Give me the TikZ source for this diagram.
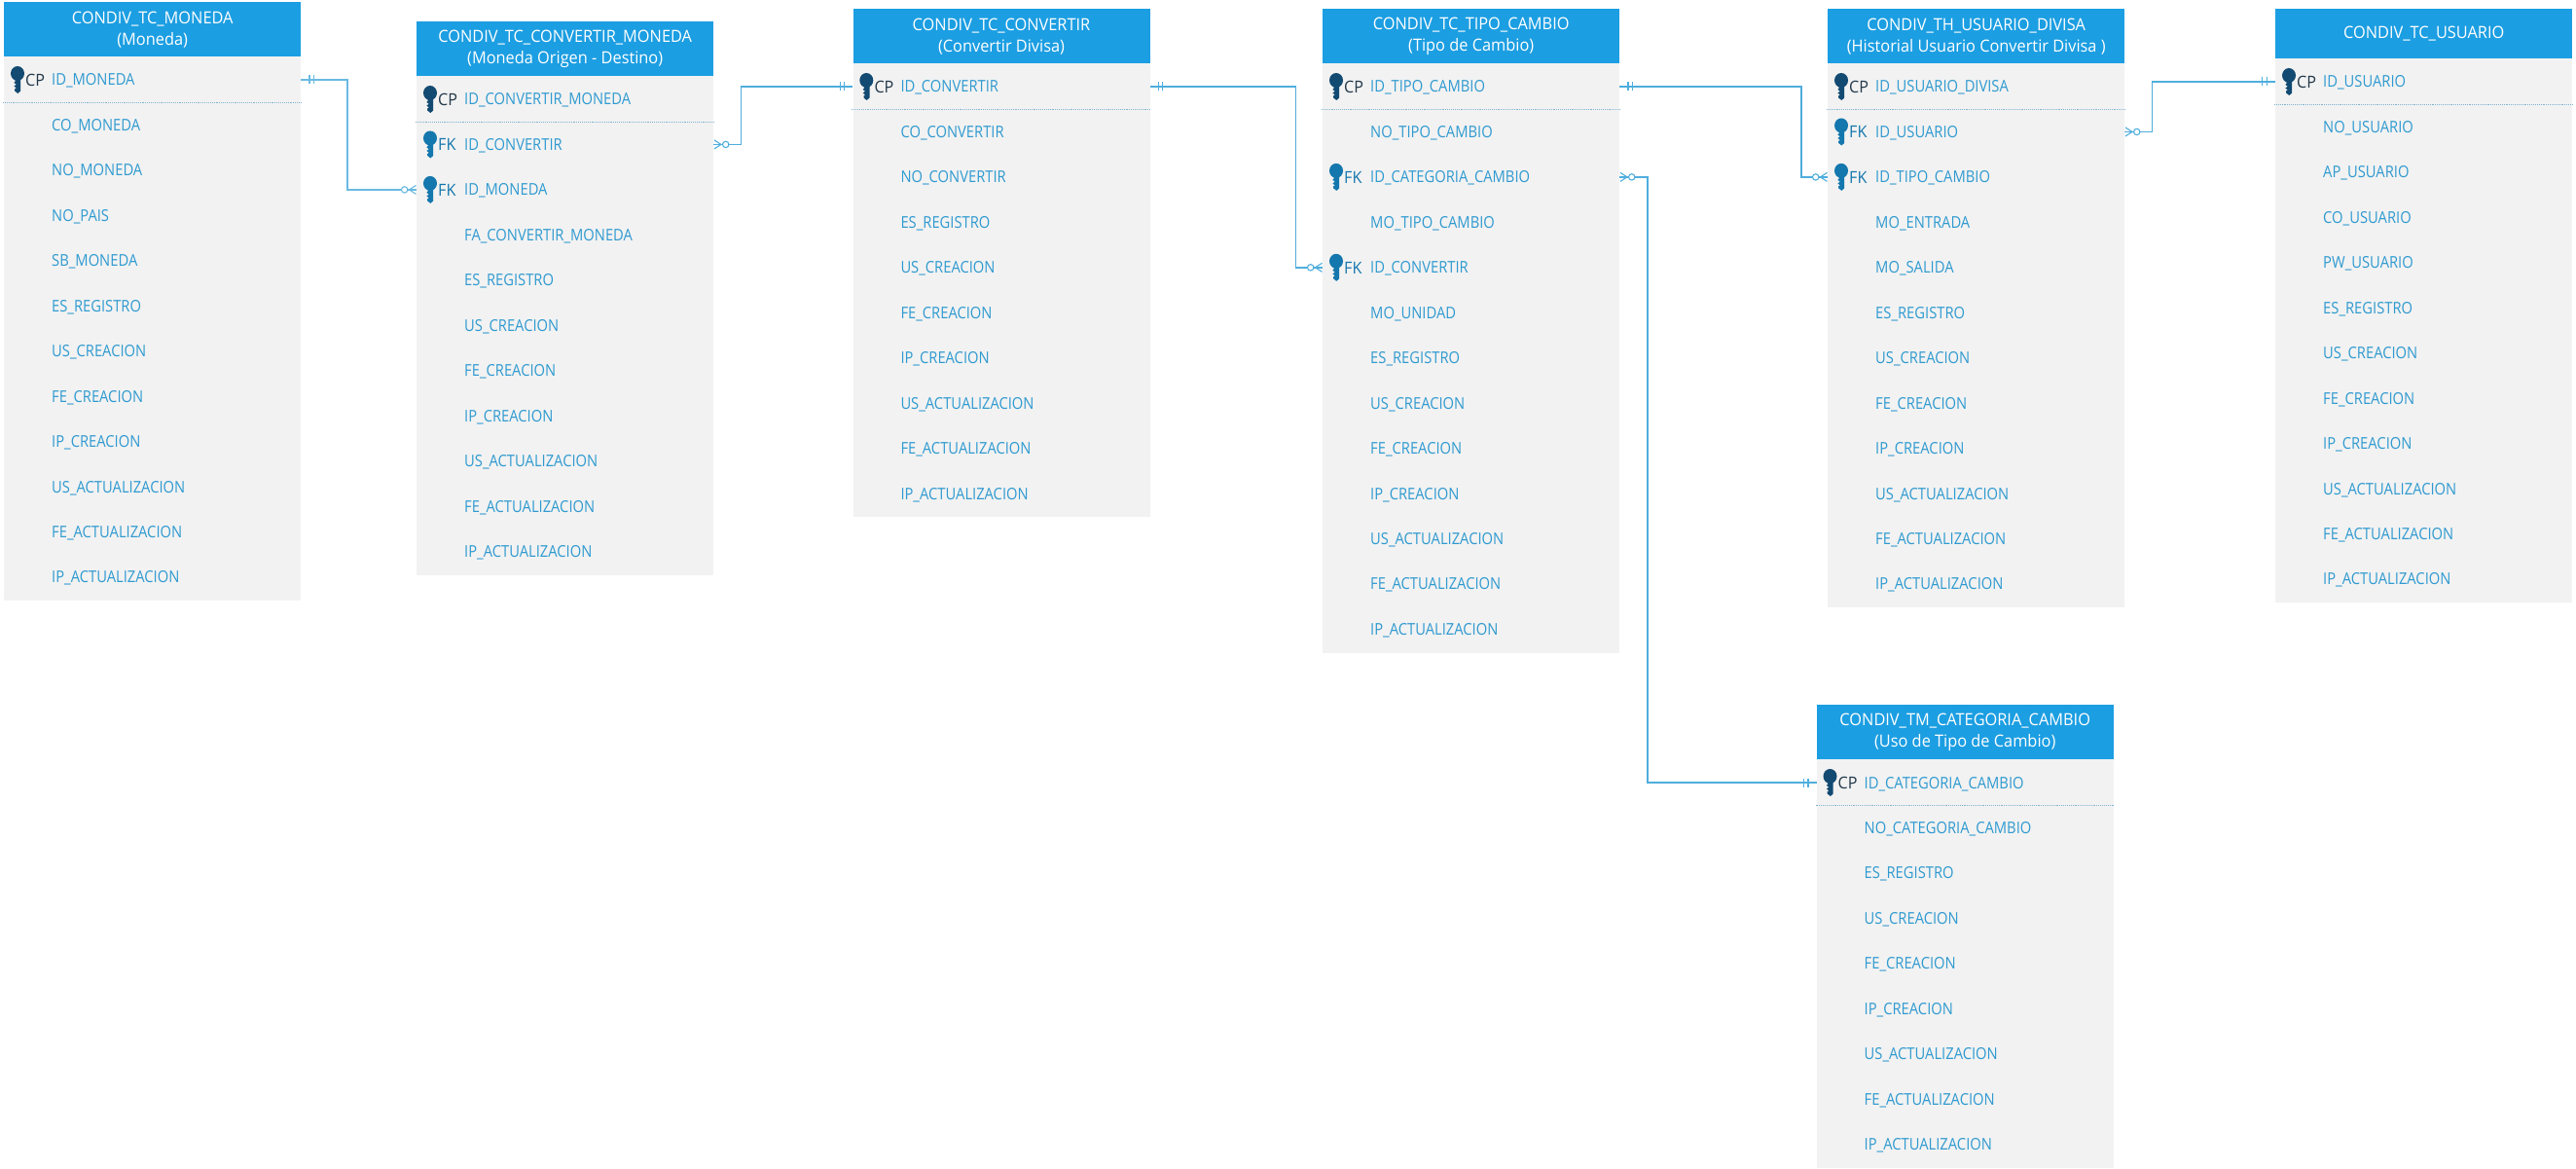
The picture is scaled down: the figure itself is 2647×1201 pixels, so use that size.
\documentclass[tikz,border=0pt]{standalone}
\usepackage{fontspec}
\setmainfont[FakeStretch=0.95]{Open Sans}
\newfontfamily\rowfont[FakeStretch=0.888]{Open Sans}
\usetikzlibrary{arrows.meta,calc}
\definecolor{headblue}{HTML}{1C9EE2}
\definecolor{bodygrey}{HTML}{F2F2F2}
\definecolor{fieldblue}{HTML}{2F9AD0}
\definecolor{linkblue}{HTML}{4FAEDD}
\definecolor{pkdark}{HTML}{124A72}
\definecolor{fkmid}{HTML}{1477AD}
\definecolor{cptext}{HTML}{22384A}
\definecolor{divblue}{HTML}{7FB3D0}
\tikzset{
  x=1pt,y=-1pt,
  bodybox/.style={fill=bodygrey,draw=none,minimum width=305pt,inner sep=0pt,anchor=north west},
  headbox/.style={fill=headblue,draw=none,text=white,minimum width=305pt,inner sep=0pt,anchor=north west,align=center,font=\fontsize{17.2}{22}\selectfont},
  rowbox/.style={anchor=west,text width=305pt,inner sep=0pt,align=left,text=fieldblue,text height=12pt,text depth=0pt,font=\rowfont\fontsize{16.6}{20}\selectfont},
  keytag/.style={anchor=west,inner sep=0pt,text height=12.5pt,text depth=0pt,font=\fontsize{17}{20}\selectfont},
  divider/.style={divblue,line width=0.9pt,densely dotted},
  onetip/.tip={Bar[width=9pt,sep=3.5pt]Bar[width=9pt,sep=8pt]},
  manytip/.tip={Circle[fill=white,length=7.5pt,width=7.5pt,sep=0pt]Straight Barb[reversed,length=7pt,width=9pt]},
  conn/.style={linkblue,line width=1.4pt},
  connwide/.style={conn,line width=2pt,color=linkblue!85!white},
  onemany/.style={postaction={draw,line width=1.1pt,onetip-manytip}},
  manyone/.style={postaction={draw,line width=1.1pt,manytip-onetip}},
  keyicon/.pic={
    \path[pic actions] (0,-6.5) ellipse (7 and 7.5);
    \path[pic actions] (-3.2,-1) -- (3.2,-1) -- (3.2,11.5) -- (0.3,14) -- (-2.8,11.5) -- (-2.8,9.5) -- (-1.2,8.5) -- (-3.6,6.5) -- (-1.2,4.8) -- (-3.6,3) -- (-2,1) -- cycle;
  }
}
\newcommand{\rowmarkN}[2]{}
\newcommand{\rowmarkP}[2]{%
  \pic[fill=pkdark] at ($(#1.west)+(14,0)$) {keyicon};
  \node[keytag,text=cptext] (#2) at ($(#1.west)+(22,0)$) {CP};}
\newcommand{\rowmarkF}[2]{%
  \pic[fill=fkmid] at ($(#1.west)+(14,0)$) {keyicon};
  \node[keytag,text=fkmid] (#2) at ($(#1.west)+(22,0)$) {FK};}
% id, x, top, header height, rows, header text, rows
\newcommand{\dbtable}[7]{%
  \pgfmathsetmacro{\bodytop}{#3+#4}
  \pgfmathsetmacro{\firstrow}{\bodytop+24}
  \pgfmathsetmacro{\bodyhigh}{48+(#5-1)*46.45}
  \node[bodybox,minimum height=\bodyhigh pt] (#1body) at (#2,\bodytop) {};
  \node[headbox,minimum height=#4pt] (#1head) at (#2,#3) {#6};
  \foreach \kind/\field [count=\n] in {#7}{%
    \pgfmathsetmacro{\rowy}{\firstrow+(\n-1)*46.45}
    \node[rowbox] (#1r\n) at (#2,\rowy) {\hspace*{49pt}\field};
    \csname rowmark\kind\endcsname{#1r\n}{#1tag\n}
  }
  \draw[divider] ($(#1r1.west)+(-1,23.5)$) -- ($(#1r1.east)+(0,23.5)$);
}
\begin{document}
\begin{tikzpicture}
\useasboundingbox (0,0) rectangle (2647,1201);
\fill[white] (0,0) rectangle (2647,1201);
\dbtable{a}{4}{2}{56}{12}{CONDIV\_TC\_MONEDA\\(Moneda)}{P/ID\_MONEDA,N/CO\_MONEDA,N/NO\_MONEDA,N/NO\_PAIS,N/SB\_MONEDA,N/ES\_REGISTRO,N/US\_CREACION,N/FE\_CREACION,N/IP\_CREACION,N/US\_ACTUALIZACION,N/FE\_ACTUALIZACION,N/IP\_ACTUALIZACION}
\dbtable{b}{428}{22}{56}{11}{CONDIV\_TC\_CONVERTIR\_MONEDA\\(Moneda Origen - Destino)}{P/ID\_CONVERTIR\_MONEDA,F/ID\_CONVERTIR,F/ID\_MONEDA,N/FA\_CONVERTIR\_MONEDA,N/ES\_REGISTRO,N/US\_CREACION,N/FE\_CREACION,N/IP\_CREACION,N/US\_ACTUALIZACION,N/FE\_ACTUALIZACION,N/IP\_ACTUALIZACION}
\dbtable{c}{876.3}{9}{56}{10}{CONDIV\_TC\_CONVERTIR\\(Convertir Divisa)}{P/ID\_CONVERTIR,N/CO\_CONVERTIR,N/NO\_CONVERTIR,N/ES\_REGISTRO,N/US\_CREACION,N/FE\_CREACION,N/IP\_CREACION,N/US\_ACTUALIZACION,N/FE\_ACTUALIZACION,N/IP\_ACTUALIZACION}
\dbtable{d}{1359}{9}{56}{13}{CONDIV\_TC\_TIPO\_CAMBIO\\(Tipo de Cambio)}{P/ID\_TIPO\_CAMBIO,N/NO\_TIPO\_CAMBIO,F/ID\_CATEGORIA\_CAMBIO,N/MO\_TIPO\_CAMBIO,F/ID\_CONVERTIR,N/MO\_UNIDAD,N/ES\_REGISTRO,N/US\_CREACION,N/FE\_CREACION,N/IP\_CREACION,N/US\_ACTUALIZACION,N/FE\_ACTUALIZACION,N/IP\_ACTUALIZACION}
\dbtable{e}{1878}{9}{56}{12}{CONDIV\_TH\_USUARIO\_DIVISA\\(Historial Usuario Convertir Divisa )}{P/ID\_USUARIO\_DIVISA,F/ID\_USUARIO,F/ID\_TIPO\_CAMBIO,N/MO\_ENTRADA,N/MO\_SALIDA,N/ES\_REGISTRO,N/US\_CREACION,N/FE\_CREACION,N/IP\_CREACION,N/US\_ACTUALIZACION,N/FE\_ACTUALIZACION,N/IP\_ACTUALIZACION}
\dbtable{f}{2338}{9}{51}{12}{CONDIV\_TC\_USUARIO}{P/ID\_USUARIO,N/NO\_USUARIO,N/AP\_USUARIO,N/CO\_USUARIO,N/PW\_USUARIO,N/ES\_REGISTRO,N/US\_CREACION,N/FE\_CREACION,N/IP\_CREACION,N/US\_ACTUALIZACION,N/FE\_ACTUALIZACION,N/IP\_ACTUALIZACION}
\dbtable{g}{1866.5}{724}{56}{9}{CONDIV\_TM\_CATEGORIA\_CAMBIO\\(Uso de Tipo de Cambio)}{P/ID\_CATEGORIA\_CAMBIO,N/NO\_CATEGORIA\_CAMBIO,N/ES\_REGISTRO,N/US\_CREACION,N/FE\_CREACION,N/IP\_CREACION,N/US\_ACTUALIZACION,N/FE\_ACTUALIZACION,N/IP\_ACTUALIZACION}
\draw[connwide,onemany] (ar1.east) -- ++(48,0) |- (br3.west);
\draw[conn,manyone] (br2.east) -- ++(28,0) |- (cr1.west);
\draw[conn,onemany] (cr1.east) -- ++(149.7,0) |- (dr5.west);
\draw[conn,onemany] (dr1.east) -- ++(186.5,0) |- (er3.west);
\draw[conn,manyone] (dr3.east) -- ++(28.5,0) |- (gr1.west);
\draw[conn,manyone] (er2.east) -- ++(28,0) |- (fr1.west);
\end{tikzpicture}
\end{document}
